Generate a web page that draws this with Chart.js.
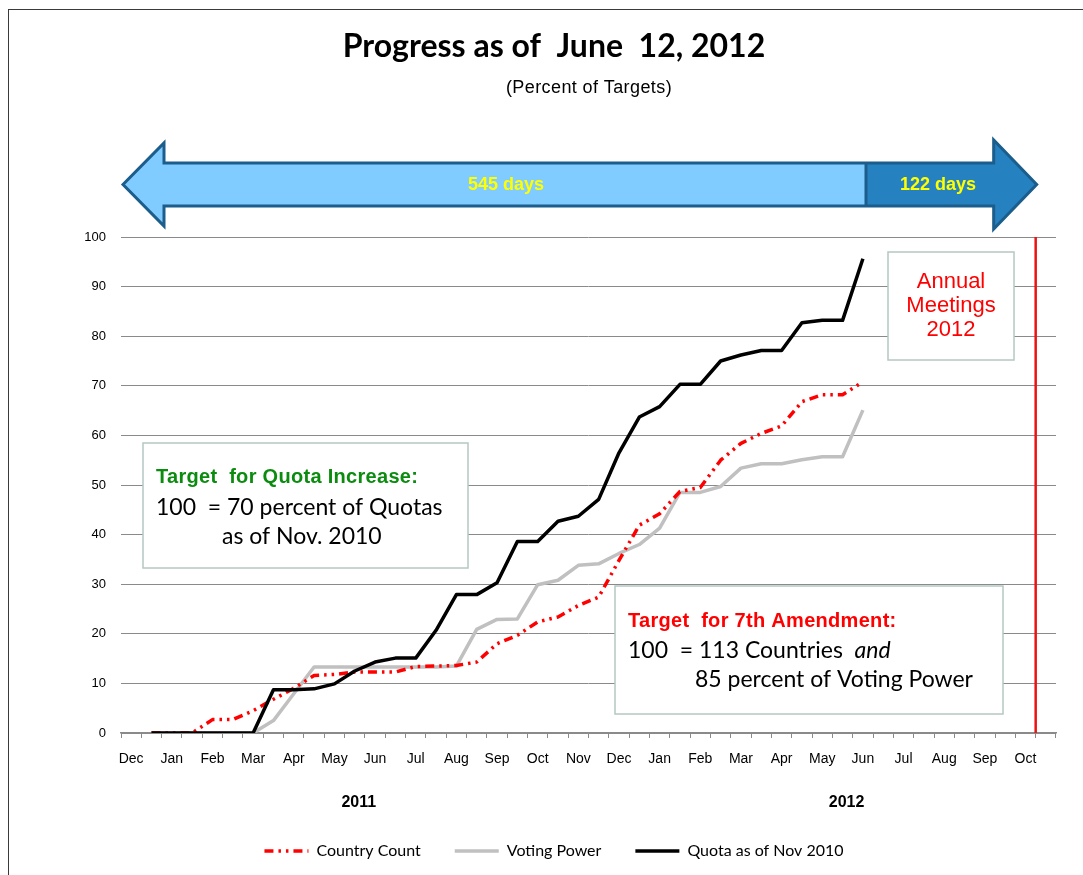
<!DOCTYPE html>
<html>
<head>
<meta charset="utf-8">
<title>Progress as of June 12, 2012</title>
<script src="https://cdn.jsdelivr.net/npm/chart.js@4.4.1/dist/chart.umd.min.js"></script>
<style>
  html, body { margin: 0; padding: 0; background: #fff; }
</style>
</head>
<body>
<canvas id="chart" width="1083" height="875"></canvas>
<script>
// months Dec 2010 .. Oct 2012, two half-month slots each (label on the first)
const months = ['Dec', 'Jan', 'Feb', 'Mar', 'Apr', 'May', 'Jun', 'Jul', 'Aug', 'Sep', 'Oct', 'Nov',
  'Dec', 'Jan', 'Feb', 'Mar', 'Apr', 'May', 'Jun', 'Jul', 'Aug', 'Sep', 'Oct'];
const categories = months.flatMap(m => [m, '']);

const years = ['2011', '2012'];
const yearSlots = [11, 35];

const countryCount = [null, 0, 0, 0, 2.7, 2.7, 4.5, 6.8, 9.0, 11.6, 11.8, 12.3, 12.3, 12.3, 13.4, 13.5,
  13.6, 14.3, 18.0, 19.7, 22.4, 23.4, 25.7, 27.4, 34.8, 41.9, 44.2, 48.7, 49.5, 55.0, 58.4, 60.4,
  61.9, 66.8, 68.2, 68.2, 70.8];
const votingPower = [null, 0, 0, 0, 0, 0, 0, 2.5, 7.9, 13.3, 13.3, 13.3, 13.3, 13.3, 13.3, 13.3,
  13.5, 20.9, 22.9, 23.0, 29.9, 30.8, 33.8, 34.1, 36.2, 38.0, 41.3, 48.5, 48.5, 49.7, 53.4, 54.3,
  54.3, 55.1, 55.7, 55.7, 65.1];
const quota = [null, 0, 0, 0, 0, 0, 0, 8.7, 8.7, 8.9, 9.9, 12.5, 14.3, 15.1, 15.1, 20.7,
  27.9, 27.9, 30.3, 38.6, 38.6, 42.7, 43.7, 47.1, 56.5, 63.7, 65.8, 70.3, 70.3, 75.0, 76.2, 77.1,
  77.1, 82.7, 83.2, 83.2, 95.6];

// Annual Meetings 2012 fall on the boundary of these two slots
const meetingSlots = [44, 45];

const SANS = "'Liberation Sans', Arial, sans-serif";
const BODY = "Lato, 'Liberation Sans', sans-serif";

function box(ctx, x, y, w, h) {
  ctx.fillStyle = '#fff';
  ctx.fillRect(x, y, w, h);
  ctx.strokeStyle = '#b5c8c4';
  ctx.lineWidth = 1.5;
  ctx.strokeRect(x, y, w, h);
}

function text(ctx, str, x, y, font, color, align, spacing) {
  ctx.font = font;
  ctx.fillStyle = color;
  ctx.textAlign = align || 'left';
  ctx.textBaseline = 'middle';
  ctx.letterSpacing = spacing || '0px';
  ctx.fillText(str, x, y);
  const w = ctx.measureText(str).width;
  ctx.letterSpacing = '0px';
  return w;
}

const decorations = {
  id: 'decorations',
  beforeDatasetsDraw(chart) {
    const ctx = chart.ctx;
    ctx.save();
    // quota target box
    box(ctx, 143, 443, 325, 125);
    text(ctx, 'Target  for Quota Increase:', 156, 477, 'bold 20px ' + SANS, '#0b8c0f', 'left', '0.3px');
    text(ctx, '100  = 70 percent of Quotas', 156, 508, '23px ' + BODY, '#000');
    text(ctx, 'as of Nov. 2010', 222, 537, '23px ' + BODY, '#000');

    // amendment target box
    box(ctx, 615, 586, 388, 128);
    text(ctx, 'Target  for 7th Amendment:', 628, 621, 'bold 20px ' + SANS, '#ff0000', 'left', '0.3px');
    const w = text(ctx, '100  = 113 Countries  ', 628, 651, '23px ' + BODY, '#000');
    text(ctx, 'and', 628 + w, 651, 'italic 23px ' + BODY, '#000');
    text(ctx, '85 percent of Voting Power', 695, 680, '23px ' + BODY, '#000');

    // annual meetings box
    box(ctx, 888, 252, 126, 108);
    text(ctx, 'Annual', 951, 282, '22px ' + SANS, '#ff0000', 'center');
    text(ctx, 'Meetings', 951, 306, '22px ' + SANS, '#ff0000', 'center');
    text(ctx, '2012', 951, 330, '22px ' + SANS, '#ff0000', 'center');
    ctx.restore();
  },
  afterDraw(chart) {
    const ctx = chart.ctx;
    const x = chart.scales.x;
    const area = chart.chartArea;
    const lineX = (x.getPixelForValue(meetingSlots[0]) + x.getPixelForValue(meetingSlots[1])) / 2;
    ctx.save();

    // frame
    ctx.strokeStyle = '#3a3a3a';
    ctx.lineWidth = 1;
    ctx.strokeRect(8.5, 9.5, 1100, 900);

    // subtitle
    text(ctx, '(Percent of Targets)', 589, 88, '18px ' + SANS, '#000', 'center', '0.4px');

    // meetings line
    ctx.strokeStyle = '#ee1111';
    ctx.lineWidth = 2.5;
    ctx.beginPath();
    ctx.moveTo(lineX, area.top);
    ctx.lineTo(lineX, area.bottom);
    ctx.stroke();

    // year labels
    years.forEach((y, i) => {
      text(ctx, y, x.getPixelForValue(yearSlots[i]) + 4, 803, 'bold 16px ' + SANS, '#000', 'center');
    });

    // days arrow
    const left = area.left + 2, right = lineX + 1, split = 866;
    const mid = 184.5, shaft = 21.5, headL = 41.5, headR = 44.5, baseL = left + 41, baseR = right - 43;
    const pts = [[left, mid], [baseL, mid - headL], [baseL, mid - shaft], [baseR, mid - shaft],
      [baseR, mid - headR], [right, mid], [baseR, mid + headR], [baseR, mid + shaft],
      [baseL, mid + shaft], [baseL, mid + headL]];
    ctx.beginPath();
    pts.forEach((p, i) => i ? ctx.lineTo(p[0], p[1]) : ctx.moveTo(p[0], p[1]));
    ctx.closePath();
    ctx.fillStyle = '#80cbff';
    ctx.fill();
    ctx.save();
    ctx.clip();
    ctx.fillStyle = '#2681c1';
    ctx.fillRect(split, 130, right - split + 5, 110);
    ctx.restore();
    ctx.strokeStyle = '#1b5d8b';
    ctx.lineWidth = 3;
    ctx.lineJoin = 'miter';
    ctx.stroke();
    ctx.beginPath();
    ctx.moveTo(split, mid - shaft);
    ctx.lineTo(split, mid + shaft);
    ctx.stroke();
    text(ctx, '545 days', 506, 185, 'bold 18px ' + SANS, '#ffff00', 'center');
    text(ctx, '122 days', 938, 185, 'bold 18px ' + SANS, '#ffff00', 'center');
    ctx.restore();
  }
};

const defaultLabels = Chart.defaults.plugins.legend.labels.generateLabels;

const ctx = document.getElementById('chart').getContext('2d');
new Chart(ctx, {
  type: 'line',
  data: {
    labels: categories,
    datasets: [
      {
        label: 'Country Count',
        data: countryCount,
        borderColor: '#ff0000',
        borderWidth: 3.5,
        borderDash: [9, 5, 2.5, 5, 2.5, 5],
        order: 1
      },
      {
        label: 'Voting Power',
        data: votingPower,
        borderColor: '#c0c0c0',
        borderWidth: 3.5,
        order: 2
      },
      {
        label: 'Quota as of Nov 2010',
        data: quota,
        borderColor: '#000000',
        borderWidth: 3.5,
        order: 0
      }
    ]
  },
  options: {
    responsive: false,
    animation: false,
    events: [],
    layout: { padding: { left: 52, right: 27, top: 0, bottom: 6 } },
    elements: {
      point: { radius: 0 },
      line: { tension: 0, borderJoinStyle: 'round', fill: false }
    },
    scales: {
      x: {
        offset: true,
        grid: { offset: true, drawOnChartArea: false, tickLength: 5, color: '#8a8a8a' },
        border: { color: '#8a8a8a', width: 1.5 },
        ticks: {
          autoSkip: false,
          maxRotation: 0,
          padding: 13,
          color: '#000',
          font: { family: SANS, size: 14 },
          callback: (v, i) => categories[i]
        },
        afterFit: scale => { scale.height = 76; }
      },
      y: {
        min: 0,
        max: 100,
        ticks: { stepSize: 10, padding: 15, color: '#000', font: { family: SANS, size: 13 } },
        grid: { drawTicks: false, color: '#8a8a8a' },
        border: { display: false },
        afterFit: scale => { scale.width = 121 - 52; }
      }
    },
    plugins: {
      title: {
        display: true,
        text: 'Progress as of  June  12, 2012',
        color: '#000',
        font: { family: BODY, size: 32, weight: 'bold' },
        padding: { top: 27, bottom: 171.6 }
      },
      legend: {
        position: 'bottom',
        labels: {
          usePointStyle: true,
          pointStyle: 'line',
          pointStyleWidth: 44,
          padding: 34,
          color: '#000',
          font: { family: BODY, size: 16 },
          sort: (a, b) => a.datasetIndex - b.datasetIndex,
          generateLabels: chart => defaultLabels(chart).map(item => {
            const ds = chart.data.datasets[item.datasetIndex];
            return Object.assign(item, { lineDash: ds.borderDash || [], lineWidth: ds.borderWidth });
          })
        }
      },
      tooltip: { enabled: false }
    }
  },
  plugins: [decorations]
});
</script>
</body>
</html>
